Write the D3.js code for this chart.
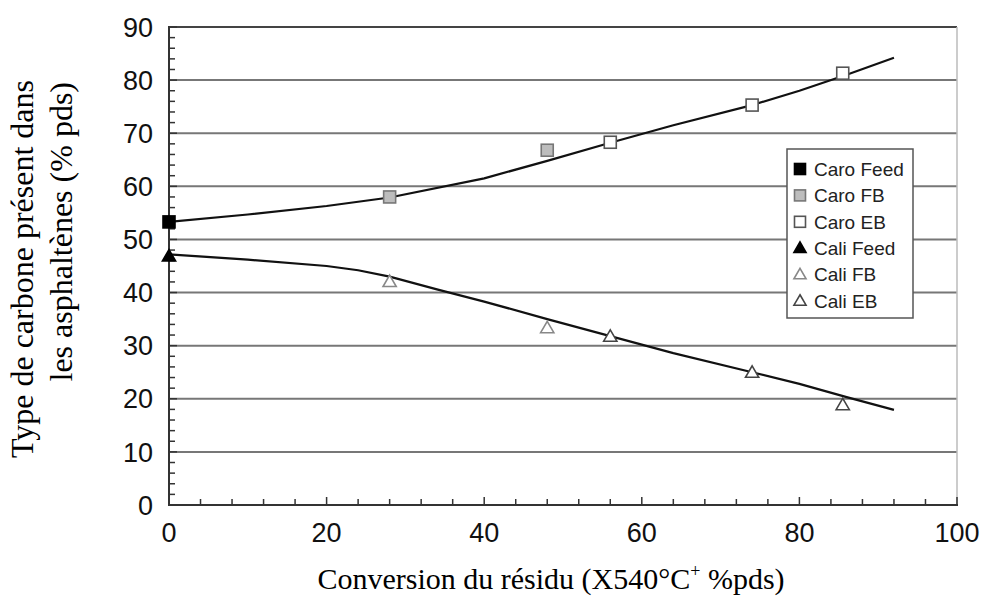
<!DOCTYPE html>
<html>
<head>
<meta charset="utf-8">
<script src="https://cdn.jsdelivr.net/npm/d3@7/dist/d3.min.js"></script>
<style>
  html, body { margin: 0; padding: 0; background: #fff; }
  svg { display: block; }
</style>
</head>
<body>
<svg id="chart" width="983" height="599"></svg>
<script>
// ---- data ----
const caroFeed = [[0, 53.3]];
const caroFB = [[28, 58.0], [48, 66.8]];
const caroEB = [[56, 68.3], [74, 75.3], [85.5, 81.3]];
const caliFeed = [[0, 46.8]];
const caliFB = [[28, 42.0], [48, 33.3]];
const caliEB = [[56, 31.7], [74, 24.9], [85.5, 18.8]];
const caroCurve = [[0, 53.3], [10, 54.7], [20, 56.3], [28, 57.9], [40, 61.5], [48, 64.8], [56, 68.2], [64, 71.5], [74, 75.3], [80, 78.0], [86, 81.0], [92, 84.2]];
const caliCurve = [[0, 47.2], [10, 46.2], [20, 45.0], [24, 44.2], [28, 43.0], [34, 40.6], [40, 38.3], [48, 35.0], [56, 31.8], [64, 28.6], [74, 25.0], [80, 22.8], [86, 20.3], [92, 17.9]];
const xTicks = [0, 20, 40, 60, 80, 100];
const yTicks = [0, 10, 20, 30, 40, 50, 60, 70, 80, 90];
const legendLabels = ["Caro Feed", "Caro FB", "Caro EB", "Cali Feed", "Cali FB", "Cali EB"];
const xTitle = "Conversion du résidu (X540°C";
const xTitleSup = "+";
const xTitleEnd = " %pds)";
const yTitle1 = "Type de carbone présent dans";
const yTitle2 = "les asphaltènes (% pds)";

// ---- layout ----
const svg = d3.select("#chart");
const L = 169, R = 957, T = 27, B = 505;
const x = d3.scaleLinear().domain([0, 100]).range([L, R]);
const y = d3.scaleLinear().domain([0, 90]).range([B, T]);
const sans = "'Liberation Sans', Arial, Helvetica, sans-serif";
const serif = "'Liberation Serif', 'Times New Roman', Times, serif";

// gridlines
svg.append("g").selectAll("line").data(yTicks.filter(d => d > 0)).join("line")
  .attr("x1", L).attr("x2", R)
  .attr("y1", d => y(d)).attr("y2", d => y(d))
  .attr("stroke", d => d === 90 ? "#444" : "#777").attr("stroke-width", 2);
// right border
svg.append("line").attr("x1", R).attr("x2", R).attr("y1", T).attr("y2", B)
  .attr("stroke", "#bbb").attr("stroke-width", 1.5);

// minor ticks y (inside)
const yMinor = d3.range(0, 90.01, 2);
svg.append("g").selectAll("line").data(yMinor).join("line")
  .attr("x1", L).attr("x2", d => L + (d % 10 === 0 ? 8 : 6))
  .attr("y1", d => y(d)).attr("y2", d => y(d))
  .attr("stroke", "#333").attr("stroke-width", 1.5);
// minor ticks x (inside)
const xMinor = d3.range(0, 100.01, 4);
svg.append("g").selectAll("line").data(xMinor).join("line")
  .attr("x1", d => x(d)).attr("x2", d => x(d))
  .attr("y1", B).attr("y2", d => B - (d % 20 === 0 ? 8 : 6))
  .attr("stroke", "#333").attr("stroke-width", 1.5);

// axes lines
svg.append("line").attr("x1", L).attr("x2", L).attr("y1", T - 1).attr("y2", B + 1)
  .attr("stroke", "#333").attr("stroke-width", 2);
svg.append("line").attr("x1", L - 1).attr("x2", R + 1).attr("y1", B).attr("y2", B)
  .attr("stroke", "#333").attr("stroke-width", 2);

// tick labels
svg.append("g").selectAll("text").data(yTicks).join("text")
  .attr("x", 153).attr("y", d => y(d)).attr("dy", "0.36em")
  .attr("text-anchor", "end").attr("font-family", sans).attr("font-size", 27)
  .attr("fill", "#111").text(d => d);
svg.append("g").selectAll("text").data(xTicks).join("text")
  .attr("x", d => x(d)).attr("y", 542)
  .attr("text-anchor", "middle").attr("font-family", sans).attr("font-size", 27)
  .attr("fill", "#111").text(d => d);

// curves
const line = d3.line().x(d => x(d[0])).y(d => y(d[1]));
[caroCurve, caliCurve].forEach(c => {
  svg.append("path").attr("d", line(c)).attr("fill", "none")
    .attr("stroke", "#111").attr("stroke-width", 2.2);
});

// markers
const styles = {
  "Caro Feed": { shape: "sq", fill: "#000", stroke: "#000" },
  "Caro FB": { shape: "sq", fill: "#bdbdbd", stroke: "#777" },
  "Caro EB": { shape: "sq", fill: "#fff", stroke: "#555" },
  "Cali Feed": { shape: "tri", fill: "#000", stroke: "#000" },
  "Cali FB": { shape: "tri", fill: "#fff", stroke: "#888" },
  "Cali EB": { shape: "tri", fill: "#fff", stroke: "#444" }
};
function marker(g, cx, cy, st, s) {
  if (st.shape === "sq") {
    g.append("rect").attr("x", cx - s / 2).attr("y", cy - s / 2)
      .attr("width", s).attr("height", s)
      .attr("fill", st.fill).attr("stroke", st.stroke).attr("stroke-width", 1.6);
  } else {
    const h = s * 0.95;
    const p = [[cx, cy - h * 0.6], [cx + s * 0.55, cy + h * 0.4], [cx - s * 0.55, cy + h * 0.4]];
    g.append("path").attr("d", "M" + p.map(q => q.join(",")).join("L") + "Z")
      .attr("fill", st.fill).attr("stroke", st.stroke).attr("stroke-width", 1.6)
      .attr("stroke-linejoin", "miter");
  }
}
const seriesData = [caroFeed, caroFB, caroEB, caliFeed, caliFB, caliEB];
const mg = svg.append("g");
seriesData.forEach((arr, i) => {
  arr.forEach(d => marker(mg, x(d[0]), y(d[1]), styles[legendLabels[i]], 12));
});

// legend
const lg = svg.append("g");
lg.append("rect").attr("x", 787).attr("y", 149).attr("width", 126).attr("height", 169)
  .attr("fill", "#fff").attr("stroke", "#555").attr("stroke-width", 1.5);
legendLabels.forEach((lab, i) => {
  const cy = 169 + i * 26.4;
  marker(lg, 800, cy, styles[lab], 11);
  lg.append("text").attr("x", 814).attr("y", cy).attr("dy", "0.36em")
    .attr("font-family", sans).attr("font-size", 19).attr("fill", "#222").text(lab);
});

// axis titles
const xt = svg.append("text").attr("x", 551).attr("y", 589).attr("text-anchor", "middle")
  .attr("font-family", serif).attr("font-size", 30).attr("fill", "#000");
xt.append("tspan").text(xTitle);
xt.append("tspan").attr("font-size", 18).attr("dy", -12).text(xTitleSup);
xt.append("tspan").attr("dy", 12).text(xTitleEnd);

svg.append("text").attr("transform", "translate(33,80) rotate(-90)")
  .attr("text-anchor", "end").attr("font-family", serif).attr("font-size", 32)
  .attr("fill", "#000").text(yTitle1);
svg.append("text").attr("transform", "translate(72,82) rotate(-90)")
  .attr("text-anchor", "end").attr("font-family", serif).attr("font-size", 32)
  .attr("fill", "#000").text(yTitle2);
</script>
</body>
</html>
